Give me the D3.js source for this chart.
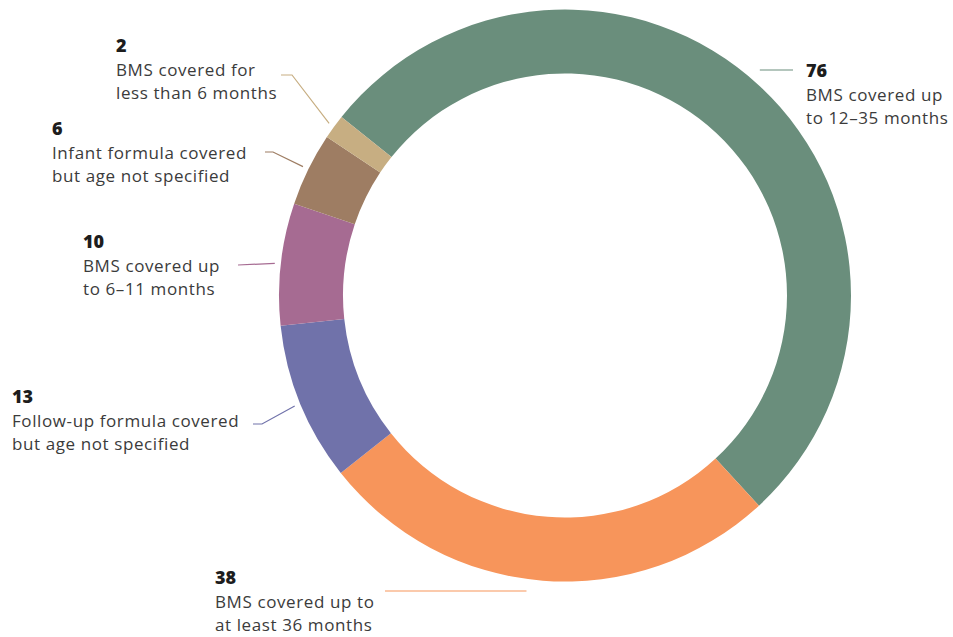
<!DOCTYPE html>
<html>
<head>
<meta charset="utf-8">
<script src="https://cdn.jsdelivr.net/npm/d3@7"></script>
<style>
  html, body { margin: 0; padding: 0; background: #fff; }
  svg { display: block; }
  .num { font-family: "Open Sans", sans-serif; font-weight: 800; font-size: 18px; fill: #1d1d1d; }
  .desc { font-family: "Open Sans", sans-serif; font-weight: 400; font-size: 17px; letter-spacing: 0.6px; fill: #3b3b3b; }
</style>
</head>
<body>
<svg id="chart" width="953" height="637"></svg>
<script>
// Countries by the age range their BMS legislation covers
const categories = [
  "BMS covered up to 12–35 months",
  "BMS covered up to at least 36 months",
  "Follow-up formula covered but age not specified",
  "BMS covered up to 6–11 months",
  "Infant formula covered but age not specified",
  "BMS covered for less than 6 months"
];
const values = [76, 38, 13, 10, 6, 2];
const labelLines = [
  ["BMS covered up", "to 12–35 months"],
  ["BMS covered up to", "at least 36 months"],
  ["Follow-up formula covered", "but age not specified"],
  ["BMS covered up", "to 6–11 months"],
  ["Infant formula covered", "but age not specified"],
  ["BMS covered for", "less than 6 months"]
];
const colors = ["#6a8e7c", "#f7955b", "#7072aa", "#a66b92", "#9e7d63", "#c7ae82"];

// Layout of the donut and the callouts
const cx = 565, cy = 295.5, outerR = 286, innerR = 222;
const startDeg = -51.4;
// x, y = text anchor (baseline of the number); leader: kind and bend points
const labelLayout = [
  { x: 806, y: 77, leader: "hright", lineY: 70, endX: 793 },
  { x: 215, y: 584, leader: "hleft", lineY: 591, endX: 385 },
  { x: 12, y: 403, leader: "bend", pts: [[262, 424], [253, 424]] },
  { x: 83, y: 248, leader: "bend", pts: [[238, 265]] },
  { x: 52, y: 135, leader: "bend", pts: [[273, 152], [265, 152]] },
  { x: 116, y: 52, leader: "bend", pts: [[292, 75], [281, 75]] }
];

const svg = d3.select("#chart");
const g = svg.append("g").attr("transform", `translate(${cx},${cy})`);

const pie = d3.pie()
  .sort(null)
  .value(d => d)
  .startAngle(startDeg * Math.PI / 180)
  .endAngle(startDeg * Math.PI / 180 + 2 * Math.PI);

const arcs = pie(values);
const arc = d3.arc().innerRadius(innerR).outerRadius(outerR);

g.selectAll("path.slice")
  .data(arcs)
  .join("path")
  .attr("class", "slice")
  .attr("d", arc)
  .attr("fill", (d, i) => colors[i]);

// Leader lines
const line = d3.line();
arcs.forEach((a, i) => {
  const L = labelLayout[i];
  let pts;
  if (L.leader === "hright" || L.leader === "hleft") {
    const r = outerR + 12;
    const dy = L.lineY - cy;
    const dx = Math.sqrt(Math.max(0, r * r - dy * dy));
    const ax = L.leader === "hright" ? cx + dx : cx - dx;
    pts = [[ax, L.lineY], [L.endX, L.lineY]];
  } else {
    const mid = (a.startAngle + a.endAngle) / 2;
    const r = outerR + 6;
    pts = [[cx + r * Math.sin(mid), cy - r * Math.cos(mid)], ...L.pts];
  }
  svg.append("path")
    .attr("d", line(pts))
    .attr("fill", "none")
    .attr("stroke", colors[i])
    .attr("stroke-width", 1.2);
});

// Labels
const labels = svg.selectAll("g.label")
  .data(arcs)
  .join("g")
  .attr("class", "label")
  .attr("transform", (d, i) => `translate(${labelLayout[i].x},${labelLayout[i].y})`);

labels.append("text")
  .attr("class", "num")
  .text(d => d.data);

labels.each(function (d, i) {
  const t = d3.select(this).append("text").attr("class", "desc");
  labelLines[i].forEach((s, k) => {
    t.append("tspan").attr("x", 0).attr("y", 23.5 * (k + 1)).text(s);
  });
});
</script>
</body>
</html>
